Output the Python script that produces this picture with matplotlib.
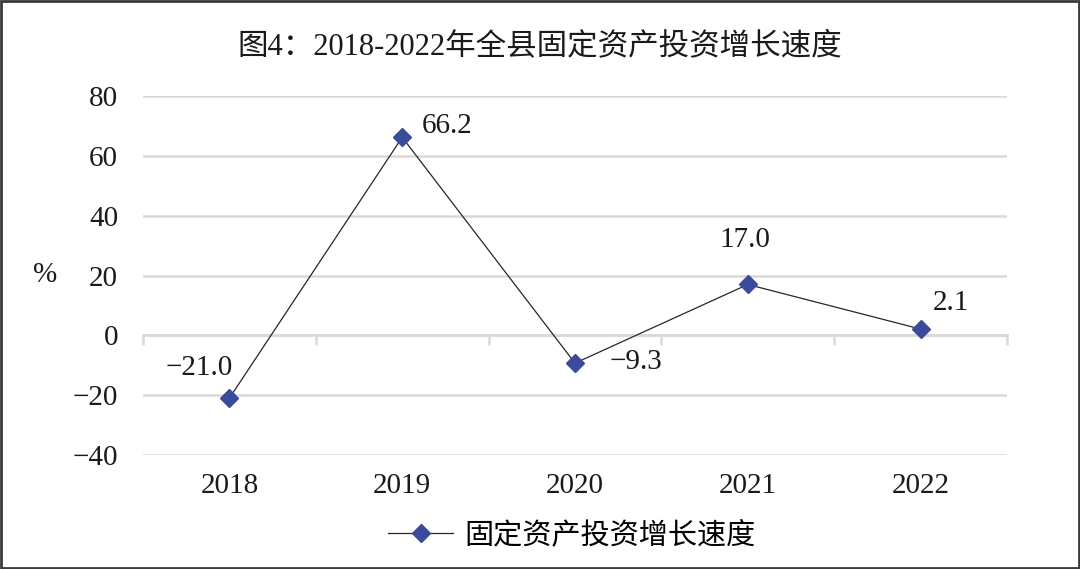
import matplotlib
matplotlib.use("Agg")
import matplotlib.pyplot as plt
from matplotlib.patches import Rectangle

years = ["2018", "2019", "2020", "2021", "2022"]
growth = [-21.0, 66.2, -9.3, 17.0, 2.1]
# label offsets in points (dx, dy)
offsets = [(-22, 22), (32, 8), (44, 1), (-2, 32), (22, 19)]

title = "图4：2018-2022年全县固定资产投资增长速度"
series_name = "固定资产投资增长速度"

plt.rcParams['font.family'] = ['Liberation Serif', 'Noto Sans CJK SC', 'DejaVu Sans']
plt.rcParams['axes.unicode_minus'] = True

grid_c = '#d9d9d9'
fs = 21

fig = plt.figure(figsize=(10.8, 5.69), dpi=100)
ax = fig.add_axes([143/1080, 1-455/569, 864/1080, 359/569])

x = list(range(len(years)))
ax.plot(x, growth, color='#262626', lw=0.9, marker='D', markersize=9,
        markerfacecolor='#3b4b9b', markeredgecolor='#3b4b9b', label=series_name, zorder=3)

for xi, v, (dx, dy) in zip(x, growth, offsets):
    ax.annotate(f"{v:.1f}".replace('-', '\u2212'), (xi, v), xytext=(dx, dy),
                textcoords='offset points', ha='center', va='center', fontsize=fs, color='#1a1a1a')

ax.set_xlim(-0.5, 4.5)
ax.set_ylim(-40, 80)
ax.set_yticks(range(-40, 81, 20))
ax.grid(axis='y', color=grid_c, lw=1.8)
ax.set_axisbelow(True)
ax.tick_params(axis='y', length=0, pad=18, labelsize=fs, labelcolor='#1a1a1a')

# category axis drawn at zero with boundary ticks
for s in ['top', 'right', 'left']:
    ax.spines[s].set_visible(False)
ax.spines['bottom'].set_position(('data', 0))
ax.spines['bottom'].set_color(grid_c)
ax.spines['bottom'].set_linewidth(1.8)
ax.set_xticks([i - 0.5 for i in range(len(years) + 1)])
ax.tick_params(axis='x', length=7, width=1.8, color=grid_c, labelbottom=False)

sec = ax.secondary_xaxis('bottom')
sec.set_xticks(x, labels=years)
sec.tick_params(length=0, pad=13, labelsize=fs, labelcolor='#1a1a1a')
sec.spines['bottom'].set_visible(False)

ax.set_ylabel('%', rotation=0, fontsize=fs, color='#1a1a1a', ha='center', va='center')
ax.yaxis.set_label_coords(-0.113, 0.5)

fig.text(0.5, 1-47/569, title, ha='center', va='center', fontsize=22, color='#1a1a1a')

fig.legend(loc='center', bbox_to_anchor=(572/1080, 1-535/569), frameon=False,
           fontsize=fs, handlelength=2.2, handletextpad=0.4)

fig.patches.append(Rectangle((0.001, 0.002), 0.998, 0.996, transform=fig.transFigure,
                             fill=False, edgecolor='#3a3a3a', lw=2))

fig.savefig('out.png', dpi=100)
